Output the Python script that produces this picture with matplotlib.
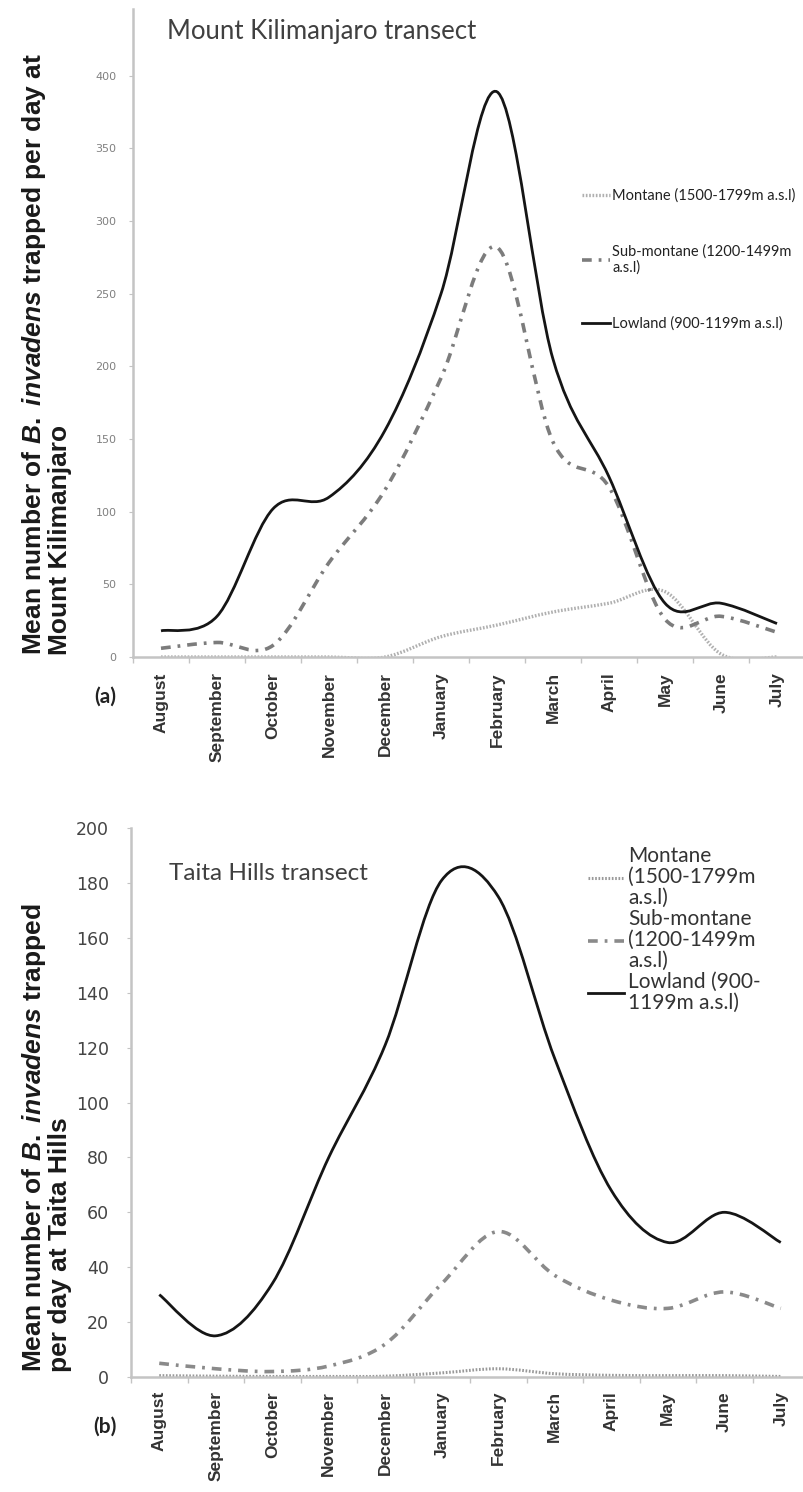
import matplotlib
matplotlib.use('Agg')
import matplotlib.pyplot as plt
from matplotlib.path import Path
from matplotlib.patches import PathPatch
from matplotlib.lines import Line2D
import numpy as np

plt.rcParams['lines.scale_dashes'] = False
plt.rcParams['mathtext.fontset'] = 'custom'
plt.rcParams['mathtext.rm'] = 'Liberation Sans:bold'
plt.rcParams['mathtext.it'] = 'Liberation Sans:italic:bold'

months = ['August', 'September', 'October', 'November', 'December', 'January',
          'February', 'March', 'April', 'May', 'June', 'July']

# Mount Kilimanjaro transect (mean flies per trap per day)
kili_montane = [0, 0, 0, 0, 0, 14, 22, 31, 37, 45, 2, 0]
kili_submontane = [6, 10, 8, 65, 115, 192, 282, 148, 117, 26, 28, 17]
kili_lowland = [18, 28, 102, 110, 156, 250, 389, 205, 124, 37, 37, 23]
kili_yticks = [0, 50, 100, 150, 200, 250, 300, 350, 400]

# Taita Hills transect
taita_montane = [0.5, 0.3, 0.2, 0.2, 0.3, 1.5, 3, 1.2, 0.6, 0.5, 0.5, 0.2]
taita_submontane = [5, 3, 2, 4, 12, 34, 53, 37, 28, 25, 31, 25]
taita_lowland = [30, 15, 34, 80, 121, 181, 175, 116, 68, 49, 60, 49]
taita_yticks = [0, 20, 40, 60, 80, 100, 120, 140, 160, 180, 200]

kili_legend = ['Montane (1500-1799m a.s.l)', 'Sub-montane (1200-1499m\na.s.l)',
               'Lowland (900-1199m a.s.l)']
taita_legend = ['Montane\n(1500-1799m\na.s.l)', 'Sub-montane\n(1200-1499m\na.s.l)',
                'Lowland (900-\n1199m a.s.l)']

W, H = 804, 1492
fig = plt.figure(figsize=(W / 100, H / 100), dpi=100)
fig.patch.set_facecolor('white')


def smooth_path(y):
    """Excel style smoothed line: cubic bezier through every point."""
    pts = np.column_stack([np.arange(len(y)), np.asarray(y, float)])
    ext = np.vstack([pts[0], pts, pts[-1]])
    verts, codes = [pts[0]], [Path.MOVETO]
    for i in range(len(pts) - 1):
        p0, p1, p2, p3 = ext[i], ext[i + 1], ext[i + 2], ext[i + 3]
        verts += [p1 + (p2 - p0) / 6.0, p2 - (p3 - p1) / 6.0, p2]
        codes += [Path.CURVE4] * 3
    return Path(verts, codes)


def px_axes(left, right, top, bottom):
    return fig.add_axes([left / W, 1 - bottom / H, (right - left) / W, (bottom - top) / H])


def setup(ax, ymax, yticks, fs, col, pad, xpad):
    ax.set_xlim(-0.5, 11.5)
    ax.set_ylim(0, ymax)
    for s in ['top', 'right']:
        ax.spines[s].set_visible(False)
    for s in ['left', 'bottom']:
        ax.spines[s].set_color('#c4c4c4')
        ax.spines[s].set_linewidth(1.8)
    ax.set_xticks(range(len(months)))
    ax.set_xticklabels(months, rotation=90, fontsize=12.5, fontweight='bold',
                       color='#333333', family='Liberation Sans')
    ax.tick_params(axis='x', which='major', length=0, pad=xpad)
    ax.set_xticks(np.arange(-0.5, 12), minor=True)
    ax.tick_params(axis='x', which='minor', length=4, color='#c4c4c4', width=1)
    ax.set_yticks(yticks)
    ax.set_yticklabels([str(t) for t in yticks], fontsize=fs, color=col)
    ax.tick_params(axis='y', length=3, color='#c4c4c4', pad=pad)
    ax.patch.set_alpha(0)


styles = {
    'montane': dict(color='#b0b0b0', lw=2.4, ls=(0, (1.2, 1.2))),
    'sub': dict(color='#7c7c7c', lw=2.6, ls=(0, (7, 5, 2, 5))),
    'low': dict(color='#151515', lw=2.0, ls='-'),
}


def draw(ax, series, sty):
    handles = []
    for y, key in zip(series, ['montane', 'sub', 'low']):
        st = dict(styles[key])
        st.update(sty.get(key, {}))
        ax.add_patch(PathPatch(smooth_path(y), fill=False, edgecolor=st['color'],
                               lw=st['lw'], linestyle=st['ls'], capstyle='butt'))
        handles.append(Line2D([], [], color=st['color'], lw=st['lw'], ls=st['ls']))
    return handles


# ---- panel (a)
ax1 = px_axes(133, 805, 9, 657)
setup(ax1, 446, kili_yticks, 8, '#808080', 9, 11)
h1 = draw(ax1, [kili_montane, kili_submontane, kili_lowland], {})
leg1 = ax1.legend(h1, kili_legend, loc='upper left', bbox_to_anchor=(575 / W, 1 - 181 / H),
                  bbox_transform=fig.transFigure, frameon=False, borderpad=0,
                  handlelength=1.9, handletextpad=0.15, labelspacing=2.85,
                  prop={'family': 'Lato', 'size': 10.5})
for t in leg1.get_texts():
    t.set_color('#222222')

fig.text(167 / W, 1 - 32 / H, 'Mount Kilimanjaro transect', fontsize=18.5, family='Lato',
         color='#404040', ha='left', va='center')
fig.text(46 / W, 1 - 655 / H,
         'Mean number of $\\mathit{B.\\ invadens}$ trapped per day at\nMount Kilimanjaro',
         rotation=90, ha='center', va='bottom', multialignment='left', fontsize=19,
         fontweight='bold', family='Liberation Sans', linespacing=0.98, color='#1a1a1a')
fig.text(105 / W, 1 - 697 / H, '(a)', fontsize=15, fontweight='bold', family='Lato',
         ha='center', va='center', color='#222222')

# ---- panel (b)
ax2 = px_axes(131, 809, 828, 1377)
setup(ax2, 200, taita_yticks, 12.5, '#444444', 13, 10)
h2 = draw(ax2, [taita_montane, taita_submontane, taita_lowland],
          {'montane': dict(color='#999999', lw=2.2), 'sub': dict(color='#8a8a8a')})
leg2 = ax2.legend(h2, taita_legend, loc='upper left', bbox_to_anchor=(578 / W, 1 - 836 / H),
                  bbox_transform=fig.transFigure, frameon=False, borderpad=0,
                  handlelength=1.7, handletextpad=0.2, labelspacing=0.05,
                  prop={'family': 'Lato', 'size': 15})
for t in leg2.get_texts():
    t.set_color('#333333')
    t.set_linespacing(1.05)

fig.text(169 / W, 1 - 873 / H, 'Taita Hills transect', fontsize=17.5, family='Lato',
         color='#404040', ha='left', va='center')
fig.text(46 / W, 1 - 1372 / H,
         'Mean number of $\\mathit{B.\\ invadens}$ trapped\nper day at Taita Hills',
         rotation=90, ha='center', va='bottom', multialignment='left', fontsize=19,
         fontweight='bold', family='Liberation Sans', linespacing=0.98, color='#1a1a1a')
fig.text(105 / W, 1 - 1427 / H, '(b)', fontsize=15, fontweight='bold', family='Lato',
         ha='center', va='center', color='#222222')

fig.savefig('out.png', dpi=100, facecolor='white')
